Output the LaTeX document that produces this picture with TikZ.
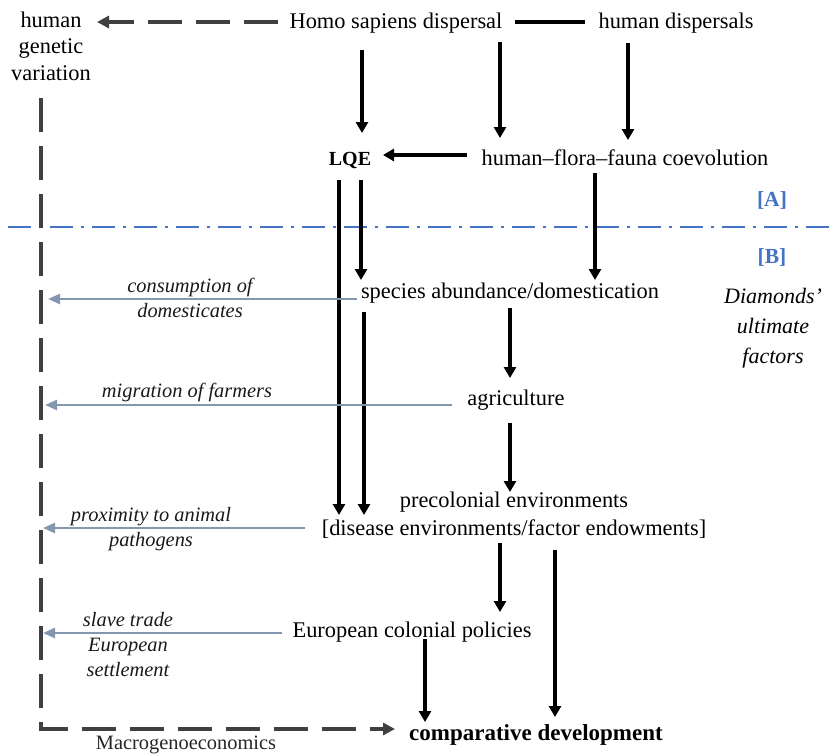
\documentclass[tikz,border=0pt]{standalone}
\usepackage{fontspec}
\setmainfont{Liberation Serif}
\usetikzlibrary{arrows.meta,calc}
\definecolor{gblue}{HTML}{8497B0}
\definecolor{dgray}{HTML}{404040}
\definecolor{lblue}{HTML}{4472C4}
\begin{document}
\begin{tikzpicture}[x=1pt,y=-1pt,inner sep=0pt,
  txt/.style={anchor=base,align=center,font=\fontsize{22.4}{26.5}\selectfont},
  bld/.style={txt,font=\fontsize{22.4}{26.5}\selectfont\bfseries},
  lab/.style={anchor=base,align=center,font=\fontsize{20.4}{25}\selectfont\itshape,text=black!90},
  blab/.style={anchor=base,font=\fontsize{21.5}{25}\selectfont\bfseries,text=lblue},
  arr/.style={line width=3.6pt,-{Triangle[width=12pt,length=11pt]}},
  garr/.style={line width=2.4pt,gblue,-{Triangle[width=10pt,length=12pt]}},
  dsh/.style={line width=4pt,dgray,dash pattern=on 34pt off 14pt},
  plain/.style={line width=3.6pt}]
\useasboundingbox (0,0) rectangle (830,753);
% nodes (multi-line nodes are placed by the baseline of their last line)
\node[txt] (hgv) at (51,80) {human\\genetic\\variation};
\node[txt] (homo) at (396,28) {Homo sapiens dispersal};
\node[txt] (hdisp) at (676,28) {human dispersals};
\node[bld,font=\fontsize{20}{24}\selectfont\bfseries] (lqe) at (350,165) {LQE};
\node[txt] (coev) at (625,165) {human–flora–fauna coevolution};
\node[blab] (la) at (772,206) {[A]};
\node[blab] (lb) at (772,263) {[B]};
\node[txt,font=\fontsize{22}{30}\selectfont\itshape] (diam) at (773,363) {Diamonds’\\ultimate\\factors};
\node[txt] (species) at (510,298) {species abundance/domestication};
\node[txt] (agri) at (516,405) {agriculture};
\node[txt,font=\fontsize{22.4}{28}\selectfont] (precol) at (514,535) {precolonial environments\\{}[disease environments/factor endowments]};
\node[txt] (euro) at (412,637) {European colonial policies};
\node[bld,font=\fontsize{23}{26}\selectfont\bfseries] (comp) at (536,740) {comparative development};
\node[txt,font=\fontsize{20.4}{24}\selectfont,text=black!85] (macro) at (186,749) {Macrogenoeconomics};
\node[lab] (l1) at (190,317) {consumption of\\domesticates};
\node[lab] (l2) at (187,397) {migration of farmers};
\node[lab] (l3) at (151,546) {proximity to animal\\pathogens};
\node[lab] (l4) at (128,676) {slave trade\\European\\settlement};
% A/B divider
\draw[line width=2.6pt,lblue,dash pattern=on 23pt off 8pt on 3pt off 8pt] (8,227) -- (830,227);
% connectors
\draw[dsh,-{Triangle[width=12pt,length=12pt]}] ($(homo.base)+(-118,-6)$) -- ($(hgv.base)+(46,-58)$);
\draw[plain] ($(homo.base)+(119,-6)$) -- ($(hdisp.base)+(-91,-6)$);
\draw[arr] ($(homo.base)+(-34,22)$) -- ($(lqe.base)+(12,-32)$);
\draw[arr] ($(homo.base)+(104,14)$) -- ($(coev.base)+(-125,-27)$);
\draw[arr] ($(hdisp.base)+(-48,15)$) -- ($(coev.base)+(3,-25)$);
\draw[arr] ($(coev.base)+(-158,-10)$) -- ($(lqe.base)+(33,-10)$);
\draw[arr] ($(lqe.base)+(11,15)$) -- ($(species.base)+(-149,-18)$);
\draw[arr] ($(lqe.base)+(-11,15)$) -- ($(precol.base)+(-175,-20)$);
\draw[arr] ($(species.base)+(-146,14)$) -- ($(precol.base)+(-150,-20)$);
\draw[arr] ($(coev.base)+(-30,8)$) -- ($(species.base)+(85,-18)$);
\draw[arr] ($(species.base)+(0,10)$) -- ($(agri.base)+(-6,-27)$);
\draw[arr] ($(agri.base)+(-6,18)$) -- ($(precol.base)+(-4,-43)$);
\draw[arr] ($(precol.base)+(-14,8)$) -- ($(euro.base)+(88,-25)$);
\draw[arr] ($(precol.base)+(41,15)$) -- ($(comp.base)+(19,-23)$);
\draw[arr] ($(euro.base)+(13,2)$) -- ($(comp.base)+(-111,-18)$);
% Macrogenoeconomics path
\draw[dsh,-{Triangle[width=12pt,length=12pt]}] ($(hgv.base)+(-10,18)$) |- ($(comp.base)+(-141,-11)$);
% grey-blue channels
\draw[garr] ($(species.base)+(-153,1)$) -- ($(hgv.base)+(-3,219)$);
\draw[garr] ($(agri.base)+(-64,0)$) -- ($(hgv.base)+(-6,325)$);
\draw[garr] ($(precol.base)+(-209,-7)$) -- ($(hgv.base)+(-8,448)$);
\draw[garr] ($(euro.base)+(-130,-4)$) -- ($(hgv.base)+(-8,553)$);
\end{tikzpicture}
\end{document}
